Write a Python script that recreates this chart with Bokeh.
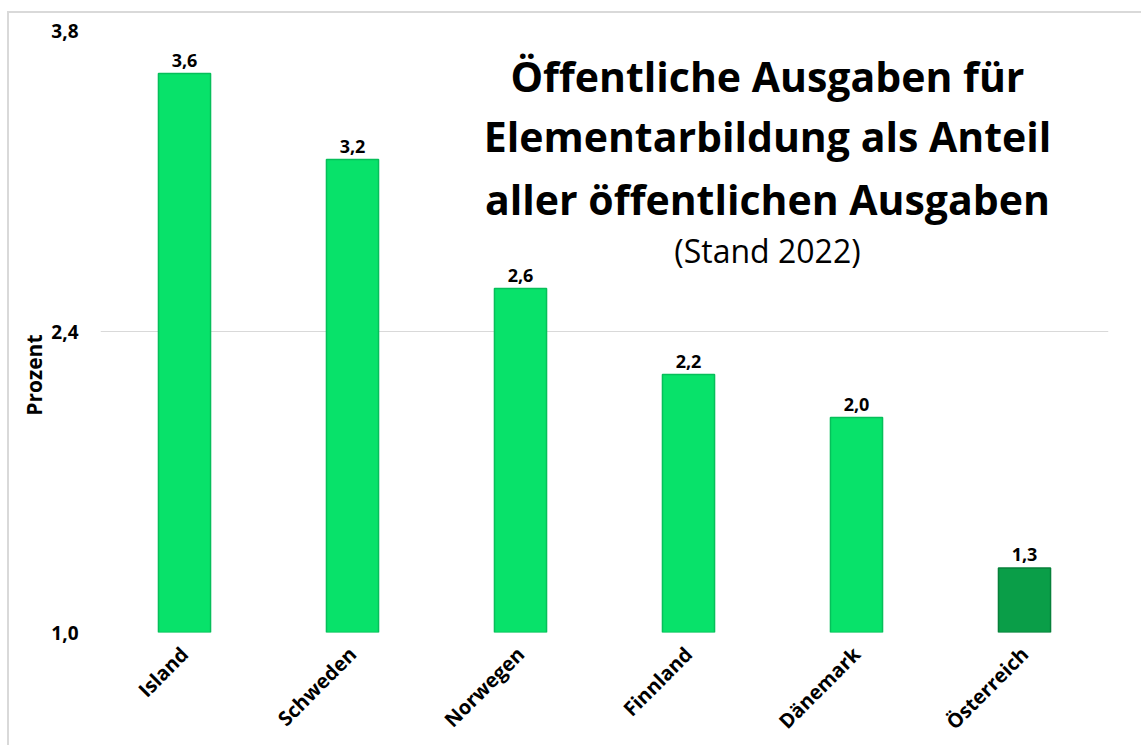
import math
from bokeh.plotting import figure
from bokeh.core.properties import value
from bokeh.models import (ColumnDataSource, FactorRange, Range1d, FixedTicker,
                          CustomJSTickFormatter, LabelSet, Label)
from bokeh.embed import file_html
from bokeh.resources import INLINE

# ---- data ----
countries = ["Island", "Schweden", "Norwegen", "Finnland", "Dänemark", "Österreich"]
values = [3.6, 3.2, 2.6, 2.2, 2.0, 1.3]
bar_colors = ["#08E26A", "#08E26A", "#08E26A", "#08E26A", "#08E26A", "#0A9E48"]
edge_colors = ["#06BF5A", "#06BF5A", "#06BF5A", "#06BF5A", "#06BF5A", "#07803A"]
y_ticks = [1.0, 2.4, 3.8]
title_lines = ["Öffentliche Ausgaben für", "Elementarbildung als Anteil", "aller öffentlichen Ausgaben"]
subtitle = "(Stand 2022)"
y_label = "Prozent"

FONT = "Open Sans"

src = ColumnDataSource(dict(
    country=countries,
    value=values,
    color=bar_colors,
    edge=edge_colors,
    label=[f"{v:.1f}".replace(".", ",") for v in values],
))

p = figure(
    x_range=FactorRange(*countries, range_padding=0),
    y_range=Range1d(1.0, 3.8),
    width=1134, height=734,
    min_border_left=91, min_border_right=35, min_border_top=17, min_border_bottom=113,
    output_backend="svg", toolbar_location=None,
)
p.margin = (11, 0, 0, 7)
p.styles = {"border-left": "2px solid #d9d9d9", "border-top": "2px solid #d9d9d9"}

p.outline_line_color = None
p.background_fill_color = "white"
p.border_fill_color = "white"

p.vbar(x="country", top="value", bottom=1.0, width=0.31, source=src,
       fill_color="color", line_color="edge", line_width=1.5)

p.add_layout(LabelSet(x="country", y="value", text="label", source=src,
                      text_align="center", text_baseline="bottom", y_offset=7,
                      text_font=value(FONT), text_font_style="bold",
                      text_font_size="18px", text_color="black"))

# axes
p.yaxis.ticker = FixedTicker(ticks=y_ticks)
p.yaxis.formatter = CustomJSTickFormatter(code="return tick.toFixed(1).replace('.', ',');")
p.yaxis.axis_line_color = None
p.yaxis.major_tick_line_color = None
p.yaxis.minor_tick_line_color = None
p.yaxis.major_label_text_font = FONT
p.yaxis.major_label_text_font_style = "bold"
p.yaxis.major_label_text_font_size = "19px"
p.yaxis.major_label_text_color = "black"
p.yaxis.major_label_standoff = 16
# trailing no-break spaces move the (centred, rotated) label down like in the original
p.yaxis.axis_label = y_label + "\u00a0" * 16
p.yaxis.axis_label_text_font = FONT
p.yaxis.axis_label_text_font_style = "bold"
p.yaxis.axis_label_text_font_size = "21px"
p.yaxis.axis_label_text_color = "black"
p.yaxis.axis_label_standoff = 0

p.xaxis.axis_line_color = None
p.xaxis.major_tick_line_color = None
p.xaxis.minor_tick_line_color = None
p.xaxis.major_label_orientation = math.pi / 4
p.xaxis.major_label_text_font = FONT
p.xaxis.major_label_text_font_style = "bold"
p.xaxis.major_label_text_font_size = "20px"
p.xaxis.major_label_text_color = "black"
p.xaxis.major_label_standoff = 12

p.xgrid.grid_line_color = None
p.ygrid.grid_line_color = "#d9d9d9"
p.ygrid.grid_line_width = 1

# title block (positions in data coordinates of the plot frame)
tx = 3.97
for txt, ty in zip(title_lines, [3.590, 3.310, 3.015]):
    p.add_layout(Label(x=tx, y=ty, text=txt, text_align="center", text_baseline="alphabetic",
                       text_font=FONT, text_font_style="bold", text_font_size="41px",
                       text_color="black"))
p.add_layout(Label(x=tx, y=2.777, text=subtitle, text_align="center", text_baseline="alphabetic",
                   text_font=FONT, text_font_size="32px", text_color="black"))

open("out.html", "w").write(file_html(p, INLINE))
